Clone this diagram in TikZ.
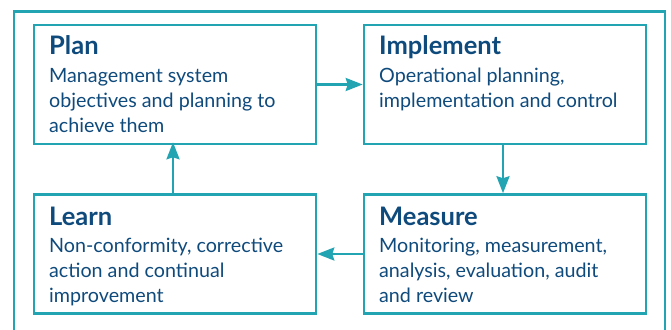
\documentclass[tikz,border=0pt]{standalone}
\usepackage{fontspec}
\setmainfont{Lato}
\usetikzlibrary{arrows.meta}
\definecolor{teal1}{HTML}{23A4B3}
\definecolor{navy1}{HTML}{0F4A7C}
\tikzset{
  stagebox/.style={draw=teal1, line width=2.6pt, minimum width=282pt, minimum height=119pt, inner sep=0pt},
  title/.style={anchor=base west, inner sep=0pt, text=navy1, font=\fontsize{25.5}{30}\selectfont\bfseries},
  body/.style={anchor=base west, inner sep=0pt, text=navy1, font=\fontsize{19.7}{25}\selectfont},
  flow/.style={draw=teal1, line width=2.4pt, -{Stealth[length=17pt,width=13pt,inset=2pt]}}
}
\begin{document}
\begin{tikzpicture}[x=1pt,y=-1pt]
\useasboundingbox (0,0) rectangle (671,329);
\draw[teal1, line width=2.4pt] (14,340) -- (14,11.5) -- (665,11.5) -- (665,340);
\node[stagebox] (plan) at (175,84.5) {};
\node[stagebox] (impl) at (505,84.5) {};
\node[stagebox] (learn) at (175,254) {};
\node[stagebox] (meas) at (505,254) {};
\node[title] (tplan) at (49,55) {Plan};
\node[body] (p1) at (49,82) {Management system};
\node[body] (p2) at (49,107) {objectives and planning to};
\node[body] (p3) at (49,132) {achieve them};
\node[title] (timpl) at (379,55) {Implement};
\node[body] (i1) at (379,82) {Operational planning,};
\node[body] (i2) at (379,107) {implementation and control};
\node[title] (tlearn) at (49,225) {Learn};
\node[body] (l1) at (49,252) {Non-conformity, corrective};
\node[body] (l2) at (49,277) {action and continual};
\node[body] (l3) at (49,302) {improvement};
\node[title] (tmeas) at (379,225) {Measure};
\node[body] (m1) at (379,252) {Monitoring, measurement,};
\node[body] (m2) at (379,277) {analysis, evaluation, audit};
\node[body] (m3) at (379,302) {and review};
\draw[flow] (plan.east) -- (impl.west);
\draw[flow] ([xshift=-2pt]impl.south) -- ([xshift=-2pt]meas.north);
\draw[flow] (meas.west) -- (learn.east);
\draw[flow] ([xshift=-2pt]learn.north) -- ([xshift=-2pt,yshift=3pt]plan.south);
\end{tikzpicture}
\end{document}
